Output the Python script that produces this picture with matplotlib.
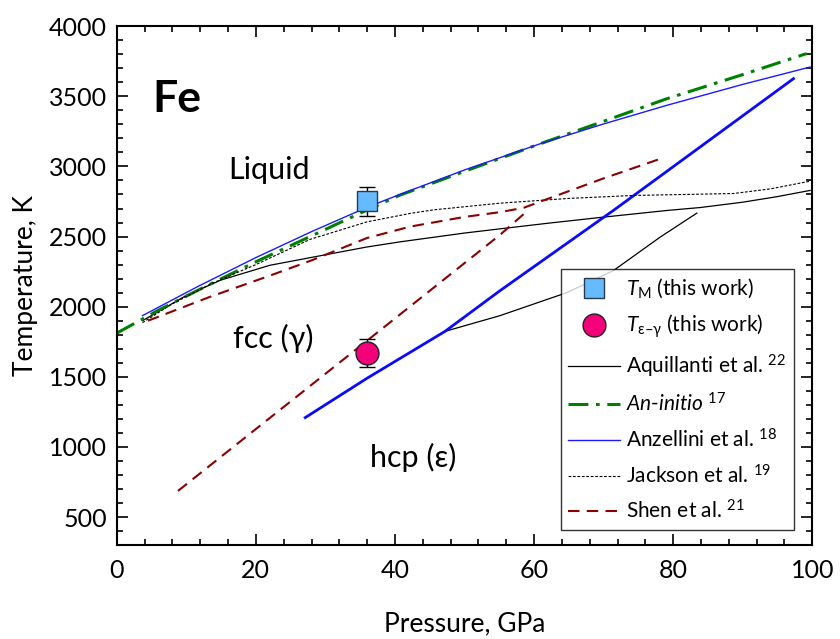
import numpy as np
import matplotlib
matplotlib.use("Agg")
import matplotlib.pyplot as plt
from matplotlib.ticker import MultipleLocator

plt.rcParams['font.family'] = ['Lato', 'DejaVu Sans']
plt.rcParams['mathtext.fontset'] = 'custom'
plt.rcParams['mathtext.rm'] = 'Lato'
plt.rcParams['mathtext.it'] = 'Lato:italic'
plt.rcParams['mathtext.bf'] = 'Lato:bold'
plt.rcParams['mathtext.fallback'] = 'stixsans'

# curves (P in GPa, T in K)
aq_melt_P = [3.7, 10, 15, 22, 30, 35.9, 40.7, 50, 55.1, 62, 69.5, 79.1, 83.9, 90, 95, 99.7]
aq_melt_T = [1900, 2080, 2190, 2295, 2370, 2425, 2462, 2525, 2555, 2595, 2636, 2686, 2707, 2745, 2785, 2829]
aq_fh_P = [47.2, 55.1, 64.7, 71.4, 78.1, 83.4]
aq_fh_T = [1824, 1936, 2100, 2257, 2495, 2667]

ai_P = [0, 6, 13.4, 20, 27.8, 36, 40.7, 50, 60.9, 70, 79.1, 90, 99.2]
ai_T = [1811, 1975, 2160, 2320, 2500, 2690, 2795, 2965, 3162, 3322, 3483, 3655, 3805]

anz_P = [3.7, 11.9, 20, 28, 36, 40.7, 50, 60.9, 70, 79.1, 90, 99.7]
anz_T = [1936, 2150, 2350, 2535, 2709, 2800, 2975, 3162, 3303, 3436, 3585, 3709]
anz_fh_P = [27.1, 36, 47.2, 55.1, 71.4, 97.3]
anz_fh_T = [1209, 1490, 1824, 2114, 2686, 3626]

jk_P = [3.7, 8, 13.4, 20, 27.8, 36, 42.2, 45.5, 55.1, 65, 74.3, 88.7, 94, 99.7]
jk_T = [1886, 2020, 2160, 2300, 2480, 2605, 2665, 2690, 2738, 2772, 2793, 2807, 2840, 2895]

sh_melt_P = [4.5, 13.4, 22, 28, 36, 42.2, 50, 55.1, 58.5, 62.3, 70, 78.6]
sh_melt_T = [1900, 2070, 2221, 2330, 2490, 2571, 2640, 2674, 2705, 2775, 2915, 3062]
sh_fh_P = [8.8, 35.9, 55.1, 58.5]
sh_fh_T = [686, 1754, 2512, 2660]

tm_P, tm_T, tm_err = [36], [2750], [100]
teg_P, teg_T, teg_err = [36], [1671], [100]

fig = plt.figure(figsize=(8.4, 6.39), dpi=100)
ax = fig.add_axes([0.139, 0.147, 0.828, 0.812])

ax.plot(aq_melt_P, aq_melt_T, color='black', lw=0.9, label='Aquillanti et al. $^{22}$')
ax.plot(aq_fh_P, aq_fh_T, color='black', lw=0.9)
ax.plot(ai_P, ai_T, color='#008000', lw=2.2, ls=(0, (6.5, 2.5, 1.2, 2.5)),
        label=r'$\mathit{An}$-$\mathit{initio}$ $^{17}$')
ax.plot(anz_P, anz_T, color='#1a1aff', lw=1.0, label='Anzellini et al. $^{18}$')
ax.plot(anz_fh_P, anz_fh_T, color='#0a0aff', lw=2.0)
ax.plot(jk_P, jk_T, color='black', lw=0.8, ls=(0, (2.5, 1.5)), label='Jackson et al. $^{19}$')
ax.plot(sh_melt_P, sh_melt_T, color='#8b0000', lw=1.5, ls=(0, (5.5, 3.5)))
ax.plot(sh_fh_P, sh_fh_T, color='#8b0000', lw=1.5, ls=(0, (5.5, 3.5)), label='Shen et al. $^{21}$')

ax.errorbar(tm_P, tm_T, yerr=tm_err, fmt='none', ecolor='black', elinewidth=1, capsize=6, zorder=4)
ax.errorbar(teg_P, teg_T, yerr=teg_err, fmt='none', ecolor='black', elinewidth=1, capsize=6, zorder=4)
ax.plot(tm_P, tm_T, ls='none', marker='s', ms=14, mfc='#66bbff', mec='#2a3a4a', mew=1, zorder=5,
        label=r'$T_{\mathrm{M}}$ (this work)')
ax.plot(teg_P, teg_T, ls='none', marker='o', ms=16.5, mfc='#f5007a', mec='#222222', mew=1, zorder=5,
        label=r'$T_{\mathrm{\varepsilon}–\mathrm{\gamma}}$ (this work)')

ax.text(8.7, 3386, 'Fe', fontsize=32, fontweight='bold', ha='center', va='baseline')
ax.text(21.9, 2907, 'Liquid', fontsize=22, ha='center', va='baseline')
ax.text(22.5, 1707, 'fcc (γ)', fontsize=22, ha='center', va='baseline')
ax.text(42.6, 857, 'hcp (ε)', fontsize=22, ha='center', va='baseline')

handles, labels = ax.get_legend_handles_labels()
order = [i for i, l in enumerate(labels) if 'this work' in l] + \
        [i for i, l in enumerate(labels) if 'this work' not in l]
leg = ax.legend([handles[i] for i in order], [labels[i] for i in order],
                loc='lower right', bbox_to_anchor=(0.973, 0.029), borderaxespad=0,
                fontsize=15, frameon=True, fancybox=False, edgecolor='black',
                handlelength=2.5, handletextpad=0.3, labelspacing=0.6, borderpad=0.35)
leg.get_frame().set_linewidth(1.0)

ax.set_xlim(0, 100)
ax.set_ylim(300, 4000)
ax.xaxis.set_major_locator(MultipleLocator(20))
ax.xaxis.set_minor_locator(MultipleLocator(4))
ax.yaxis.set_major_locator(MultipleLocator(500))
ax.yaxis.set_minor_locator(MultipleLocator(100))
ax.tick_params(which='both', direction='in', top=True, right=True, labelsize=18, width=1.2)
ax.tick_params(which='major', length=8)
ax.tick_params(which='minor', length=4.5)
ax.tick_params(axis='x', pad=10)
ax.tick_params(axis='y', pad=7)
for s in ax.spines.values():
    s.set_linewidth(1.5)

ax.set_xlabel('Pressure, GPa', fontsize=19, labelpad=21)
ax.set_ylabel('Temperature, K', fontsize=19, labelpad=8)

fig.savefig('out.png', dpi=100)
